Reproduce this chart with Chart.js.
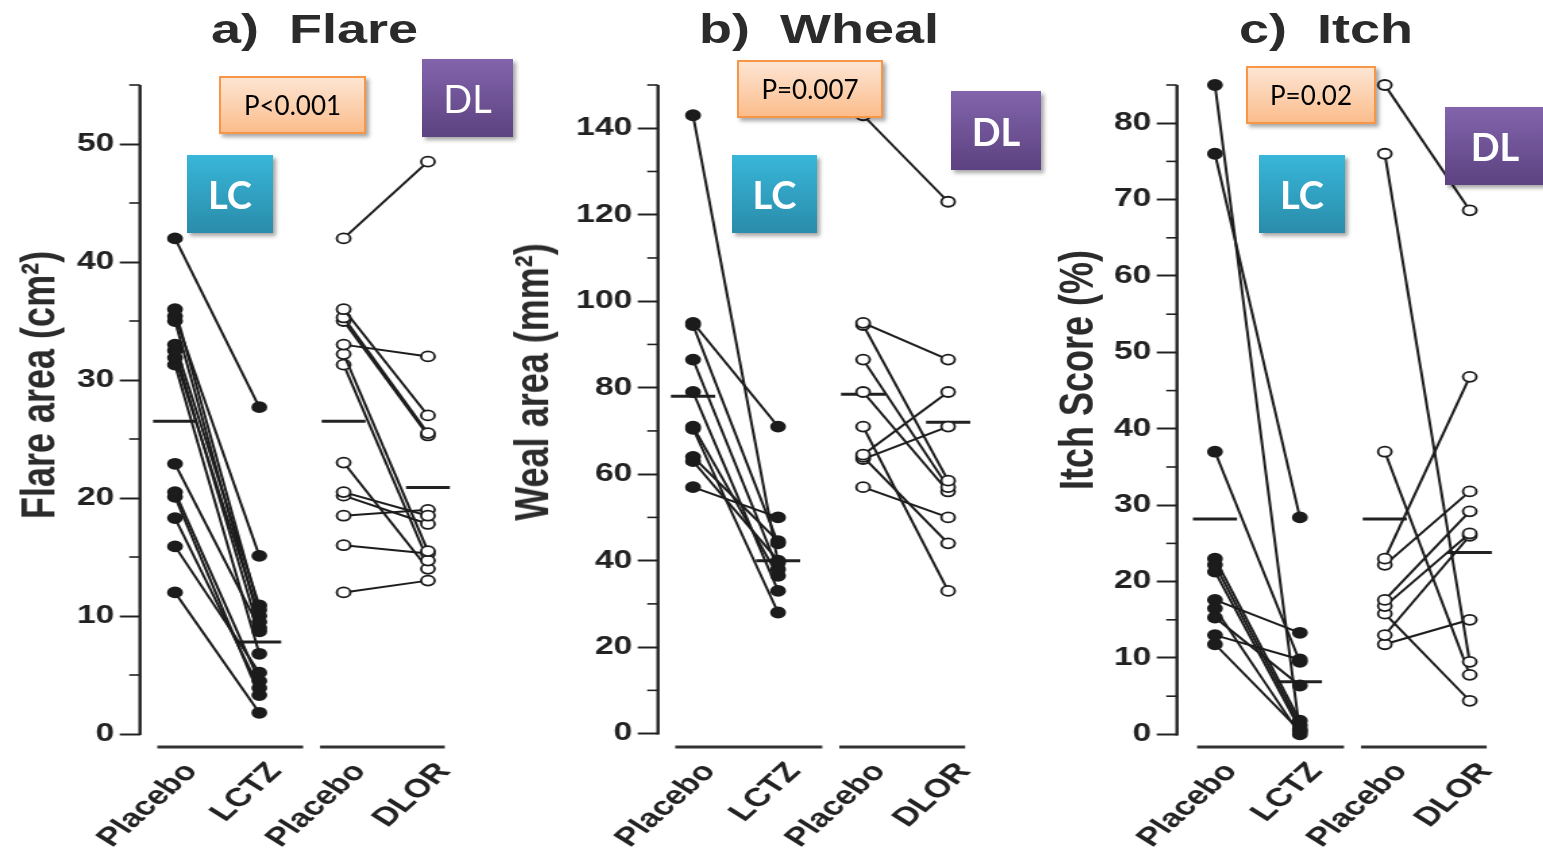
<!DOCTYPE html>
<html>
<head>
<meta charset="utf-8">
<script src="https://cdn.jsdelivr.net/npm/chart.js@4.4.1/dist/chart.umd.min.js"></script>
<style>
html, body { margin: 0; padding: 0; background: #fff; }
body { width: 1543px; height: 858px; position: relative; overflow: hidden; font-family: "Liberation Sans", Arial, sans-serif; }
.panel { position: absolute; top: 0; width: 370px; height: 858px; transform: scaleX(1.35); transform-origin: 0 0; }
.ptitle { position: absolute; top: 9px; font-weight: bold; font-size: 40px; line-height: 40px; color: #2b2b2b; white-space: pre; transform: translateX(-50%); }
.ytitle { position: absolute; font-weight: bold; font-size: 36px; line-height: 36px; color: #2b2b2b; white-space: nowrap; transform: translate(-50%, -50%) rotate(-90deg); }
.box { position: absolute; display: flex; align-items: center; justify-content: center; box-sizing: border-box;
       font-family: Lato, "Open Sans", sans-serif; box-shadow: 3px 3px 4px rgba(0,0,0,.35); z-index: 5; }
.pbox { background: linear-gradient(#fde5d3, #fbbd8c); border: 2px solid #f79646; color: #000; font-size: 26px; }
.lc { background: linear-gradient(#38b6d9, #2a8caa); color: #fff; font-size: 38px; font-weight: bold; }
.dl { background: linear-gradient(#8264ac, #5c4280); color: #fff; font-size: 38px; font-weight: bold; }
.dl.thin { font-weight: normal; }
</style>
</head>
<body>

<div class="panel" style="left:0px">
  <canvas id="flareChart"></canvas>
  <div class="ptitle" style="left:233px">a)  Flare</div>
  <div class="ytitle" style="left:28px; top:385px">Flare area (cm²)</div>
</div>
<div class="panel" style="left:518px">
  <canvas id="whealChart"></canvas>
  <div class="ptitle" style="left:223px">b)  Wheal</div>
  <div class="ytitle" style="left:10px; top:382px">Weal area (mm²)</div>
</div>
<div class="panel" style="left:1037px">
  <canvas id="itchChart"></canvas>
  <div class="ptitle" style="left:214px">c)  Itch</div>
  <div class="ytitle" style="left:29px; top:370px">Itch Score (%)</div>
</div>

<div class="box pbox" style="left:219px; top:76px; width:147px; height:58px">P&lt;0.001</div>
<div class="box lc" style="left:187px; top:155px; width:86px; height:78px">LC</div>
<div class="box dl thin" style="left:422px; top:59px; width:91px; height:78px">DL</div>

<div class="box pbox" style="left:737px; top:60px; width:146px; height:58px">P=0.007</div>
<div class="box lc" style="left:732px; top:155px; width:85px; height:78px">LC</div>
<div class="box dl" style="left:951px; top:91px; width:90px; height:79px">DL</div>

<div class="box pbox" style="left:1246px; top:66px; width:130px; height:58px">P=0.02</div>
<div class="box lc" style="left:1259px; top:155px; width:86px; height:78px">LC</div>
<div class="box dl" style="left:1445px; top:107px; width:100px; height:78px">DL</div>

<script>
// --- Дані ---
const groups = ['Placebo', 'LCTZ', 'Placebo', 'DLOR'];

// a) Flare, cm2
const flareLcPlacebo = [42, 36, 35.4, 35, 33, 32.5, 31.9, 31.3, 22.9, 20.5, 20.1, 18.3, 15.9, 12];
const flareLctz      = [27.7, 10.5, 15.1, 9.5, 10.9, 8.7, 10, 6.8, 9, 4.5, 3.3, 3.9, 5.2, 1.8];
const flareDlPlacebo = [42, 36, 35.3, 35, 33, 32.2, 31.3, 23, 20.5, 20.2, 18.5, 16, 12];
const flareDlor      = [48.5, 27, 25.5, 25.3, 32, 15.5, 14.7, 14, 18.5, 17.8, 19, 15.3, 13];
const flareMeans     = [26.5, 7.8, 26.5, 20.9];

// b) Wheal, mm2
const whealLcPlacebo = [143, 95, 94.5, 86.5, 79, 71, 70.5, 64, 63, 57];
const whealLctz      = [39.5, 71, 44, 38, 33, 36.5, 28, 44.5, 40, 50];
const whealDlPlacebo = [143, 95, 94.5, 86.5, 79, 71, 64.5, 64, 63.5, 57];
const whealDlor      = [123, 86.5, 58.5, 57, 56, 33, 79, 44, 71, 50];
const whealMeans     = [78, 40, 78.5, 72];

// c) Itch, %
const itchLcPlacebo = [85, 76, 37, 23, 22.2, 21.3, 17.6, 16.5, 15.3, 13, 11.8];
const itchLctz      = [0.3, 28.4, 9.5, 1.8, 1.2, 0.7, 13.3, 0, 6.4, 9.8, 0.5];
const itchDlPlacebo = [85, 76, 37, 23, 22.2, 17.6, 16.8, 15.8, 13, 11.8];
const itchDlor      = [68.6, 9.5, 7.8, 46.8, 31.8, 29.2, 26.3, 4.4, 26, 15];
const itchMeans     = [28.2, 6.9, 28.2, 23.8];

const ink = '#1c1c1c';

// осі: лінія Y до нуля, малі поділки, дві горизонтальні риски внизу
const axisDecor = {
    id: 'axisDecor',
    beforeDatasetsDraw(chart, args, opts) {
        const { ctx, chartArea, scales: { x, y } } = chart;
        ctx.save();
        ctx.strokeStyle = '#222';
        ctx.lineWidth = 2.4;
        ctx.beginPath();
        ctx.moveTo(chartArea.left, y.getPixelForValue(0) + 1);
        ctx.lineTo(chartArea.left, chartArea.top);
        ctx.stroke();

        ctx.lineWidth = 1.6;
        y.ticks.forEach(t => {
            if (t.value % opts.major !== 0) {
                const py = y.getPixelForValue(t.value);
                ctx.beginPath();
                ctx.moveTo(chartArea.left - 8, py);
                ctx.lineTo(chartArea.left, py);
                ctx.stroke();
            }
        });

        ctx.strokeStyle = '#333';
        ctx.lineWidth = 3;
        opts.brackets.forEach(b => {
            ctx.beginPath();
            ctx.moveTo(x.getPixelForValue(b[0]), chartArea.bottom);
            ctx.lineTo(x.getPixelForValue(b[1]), chartArea.bottom);
            ctx.stroke();
        });
        ctx.restore();
    }
};

function pairLines(before, after, xa, open) {
    return before.map((v, i) => ({
        data: [{ x: xa, y: v }, { x: xa + 1, y: after[i] }],
        borderColor: ink,
        borderWidth: 2,
        pointRadius: 5,
        pointBorderWidth: 1.8,
        pointBackgroundColor: open ? '#fff' : ink,
        pointBorderColor: ink,
        clip: false
    }));
}

function meanLines(means) {
    return means.map((m, i) => ({
        data: [{ x: i + 1 - 0.26, y: m }, { x: i + 1 + 0.26, y: m }],
        borderColor: '#222',
        borderWidth: 3,
        pointRadius: 0,
        clip: false
    }));
}

function drawPanel(id, lcP, lcA, dlP, dlA, means, yCfg, xRange) {
    const ctx = document.getElementById(id).getContext('2d');
    return new Chart(ctx, {
        type: 'line',
        data: {
            datasets: [
                ...pairLines(lcP, lcA, 1, false),
                ...pairLines(dlP, dlA, 3, true),
                ...meanLines(means)
            ]
        },
        plugins: [axisDecor],
        options: {
            responsive: true,
            maintainAspectRatio: false,
            animation: false,
            events: [],
            layout: { padding: { top: 85, right: 21.8, bottom: 0, left: 0 } },
            plugins: {
                legend: { display: false },
                tooltip: { enabled: false },
                axisDecor: { major: yCfg.major, brackets: [[0.79, 2.52], [2.72, 4.2]] }
            },
            scales: {
                x: {
                    type: 'linear',
                    min: xRange[0], max: xRange[1],
                    afterBuildTicks: s => { s.ticks = [1, 2, 3, 4].map(v => ({ value: v })); },
                    afterFit: s => { s.height = 111; },
                    grid: { display: false },
                    border: { display: false },
                    ticks: {
                        autoSkip: false,
                        minRotation: 50, maxRotation: 50,
                        padding: 2,
                        labelOffset: 12,
                        color: '#222',
                        font: { family: 'Liberation Sans', weight: 'bold', size: 26 },
                        callback: v => groups[v - 1]
                    }
                },
                y: {
                    min: yCfg.min, max: yCfg.max,
                    afterFit: s => { s.width = 103.7; },
                    border: { display: false },
                    grid: {
                        drawOnChartArea: false,
                        drawTicks: true,
                        tickLength: 15,
                        tickWidth: 2,
                        color: c => (c.tick && c.tick.value % yCfg.major === 0) ? '#222' : 'rgba(0,0,0,0)'
                    },
                    ticks: {
                        stepSize: yCfg.step,
                        includeBounds: false,
                        autoSkip: false,
                        padding: 4,
                        color: '#222',
                        font: { family: 'Liberation Sans', weight: 'bold', size: 25 },
                        callback: v => (v % yCfg.major === 0 ? v : '')
                    }
                }
            }
        }
    });
}

drawPanel('flareChart', flareLcPlacebo, flareLctz, flareDlPlacebo, flareDlor, flareMeans,
    { min: -1.1, max: 55, step: 5, major: 10 }, [0.585, 4.5]);
drawPanel('whealChart', whealLcPlacebo, whealLctz, whealDlPlacebo, whealDlor, whealMeans,
    { min: -3.1, max: 150, step: 10, major: 20 }, [0.588, 4.47]);
drawPanel('itchChart', itchLcPlacebo, itchLctz, itchDlPlacebo, itchDlor, itchMeans,
    { min: -1.65, max: 85, step: 5, major: 10 }, [0.553, 4.44]);
</script>
</body>
</html>
